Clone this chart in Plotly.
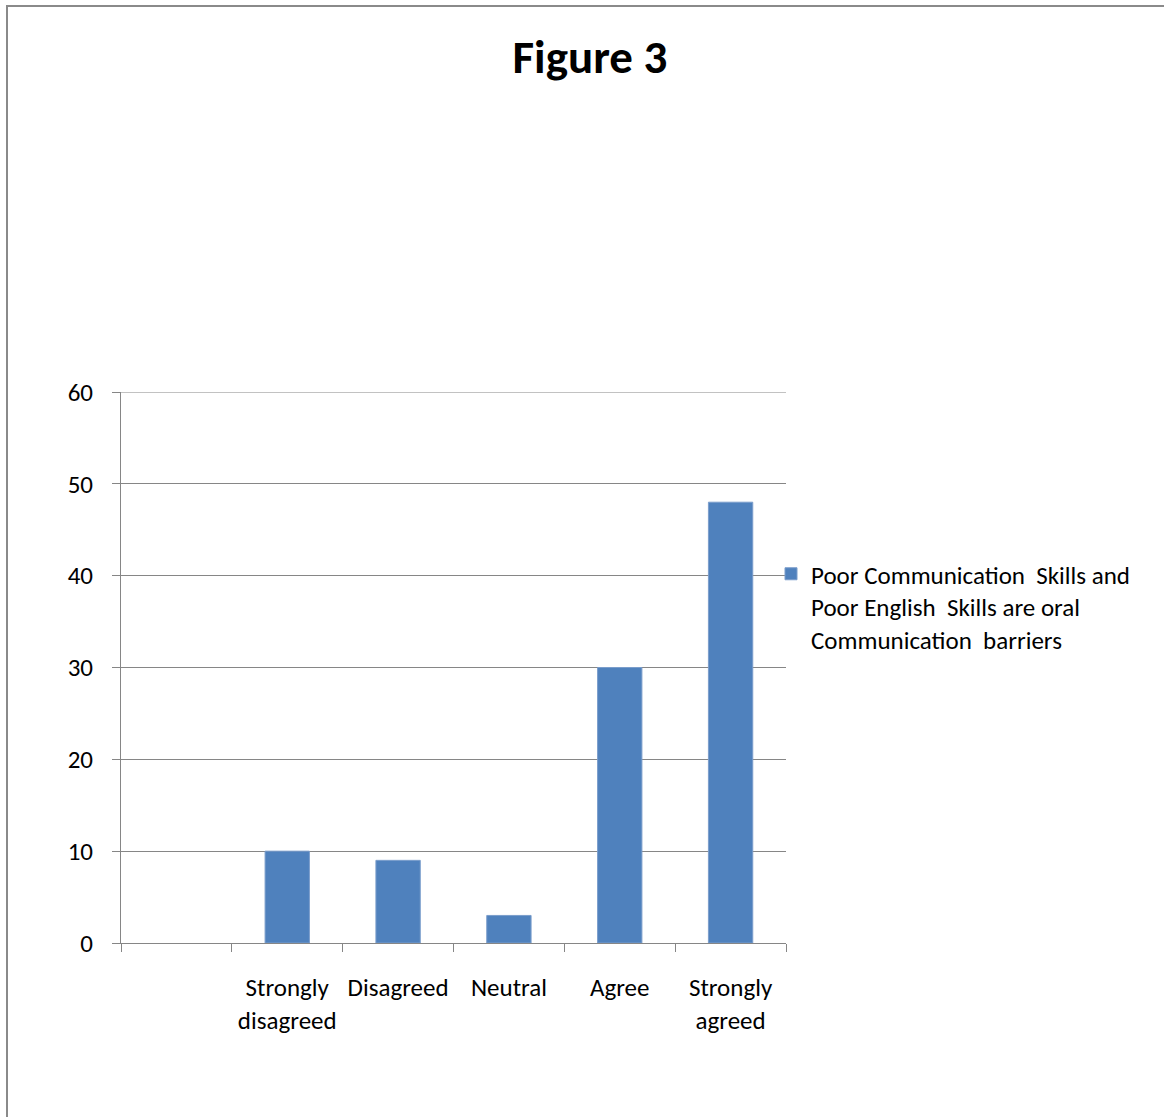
import plotly.graph_objects as go

# Survey responses
categories = [" ", "Strongly<br>disagreed", "Disagreed", "Neutral", "Agree", "Strongly<br>agreed"]
responses = [None, 10, 9, 3, 30, 48]
series_name = "Poor Communication  Skills and<br>Poor English  Skills are oral<br>Communication  barriers"
y_ticks = [0, 10, 20, 30, 40, 50, 60]
y_max = 60

FONT = "Carlito, Lato, sans-serif"
GRID = "#868686"

fig = go.Figure(
    go.Bar(
        x=categories,
        y=responses,
        name=series_name,
        marker=dict(color="#4F81BD", line=dict(color="#7A9DCB", width=1)),
        showlegend=True,
    )
)

fig.update_layout(
    width=1164,
    height=1117,
    margin=dict(l=121, r=378, t=392, b=174),
    paper_bgcolor="white",
    plot_bgcolor="white",
    font=dict(family=FONT, size=26, color="black"),
    bargap=0.6,
    title=dict(
        text="<b>Figure 3</b>",
        font=dict(family=FONT, size=47, color="black"),
        x=590 / 1164, xref="container", xanchor="center",
        y=1 - 57 / 1117, yanchor="middle",
    ),
    legend=dict(
        x=(771 - 121) / 665, xanchor="left",
        y=(943 - 551) / 551, yanchor="top",
        valign="top",
        font=dict(family=FONT, size=25, color="black"),
        bgcolor="rgba(0,0,0,0)",
        itemwidth=30,
    ),
    shapes=[
        # outer chart frame
        dict(
            type="rect", xref="paper", yref="paper",
            x0=(7 - 121) / 665, x1=(1175 - 121) / 665,
            y0=(943 - 1130) / 551, y1=(943 - 6) / 551,
            line=dict(color="#8a8a8a", width=2),
            layer="below",
        ),
        # top gridline at the axis maximum
        dict(
            type="line", xref="paper", yref="y",
            x0=0, x1=1, y0=y_max, y1=y_max,
            line=dict(color=GRID, width=1),
            layer="below",
        ),
    ],
)

fig.update_yaxes(
    range=[0, y_max],
    tickvals=y_ticks,
    showgrid=True, gridcolor=GRID, gridwidth=1,
    showline=True, linecolor=GRID, linewidth=1,
    ticks="outside", ticklen=8, tickcolor=GRID,
    ticklabelstandoff=14,
    zeroline=False,
    tickfont=dict(family=FONT, size=25),
)
fig.update_xaxes(
    type="category",
    showline=True, linecolor=GRID, linewidth=1,
    ticks="outside", ticklen=8, tickcolor=GRID,
    tickson="boundaries",
    ticklabelstandoff=22,
    showgrid=False,
    tickfont=dict(family=FONT, size=25),
    tickangle=0,
)

fig.write_html("out.html")
